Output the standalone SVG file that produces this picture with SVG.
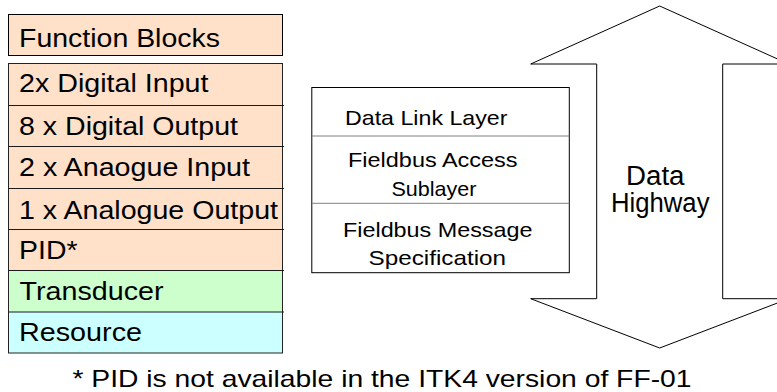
<svg xmlns="http://www.w3.org/2000/svg" width="777" height="392" viewBox="0 0 777 392">
<style>
  .t { font-family: "Liberation Sans", Arial, sans-serif; fill: #000; }
  .big { font-size: 25px; }
  .mid { font-size: 21px; }
  .box { stroke: #000; stroke-width: 1; }
  .peach { fill: #FFE1C9; }
  .green { fill: #CCFFCC; }
  .cyan { fill: #CCFFFF; }
  .sep { stroke: #1a1a1a; stroke-width: 1; }
  .gsep { stroke: #808080; stroke-width: 1; }
</style>
<rect width="777" height="392" fill="#fff"/>

<g id="function-blocks-title">
  <rect class="box peach" x="8.5" y="14.5" width="274" height="41"/>
  <text class="t big" x="19" y="46.7" textLength="201" lengthAdjust="spacingAndGlyphs">Function Blocks</text>
</g>

<g id="block-stack">
  <rect class="peach" x="8.5" y="63.5" width="274" height="207"/>
  <rect class="green" x="8.5" y="270.5" width="274" height="41.5"/>
  <rect class="cyan" x="8.5" y="312" width="274" height="41"/>
  <rect x="8.5" y="63.5" width="274" height="289.5" fill="none" stroke="#222" stroke-width="1"/>
  <line class="sep" x1="8.5" y1="105.5" x2="284" y2="105.5"/>
  <line class="sep" x1="8.5" y1="146.5" x2="284" y2="146.5"/>
  <line class="sep" x1="8.5" y1="188.5" x2="284" y2="188.5"/>
  <line class="sep" x1="8.5" y1="229.5" x2="284" y2="229.5"/>
  <line class="sep" x1="8.5" y1="270.5" x2="284" y2="270.5"/>
  <line class="sep" x1="8.5" y1="312" x2="284" y2="312"/>
</g>
<g id="row-digital-input"><text class="t big" x="19" y="92.3" textLength="189.5" lengthAdjust="spacingAndGlyphs">2x Digital Input</text></g>
<g id="row-digital-output"><text class="t big" x="19" y="134.5" textLength="219" lengthAdjust="spacingAndGlyphs">8 x Digital Output</text></g>
<g id="row-analogue-input"><text class="t big" x="19" y="176" textLength="231" lengthAdjust="spacingAndGlyphs">2 x Anaogue Input</text></g>
<g id="row-analogue-output"><text class="t big" x="19" y="218.5" textLength="259" lengthAdjust="spacingAndGlyphs">1 x Analogue Output</text></g>
<g id="row-pid"><text class="t big" x="19" y="258.5" textLength="58.5" lengthAdjust="spacingAndGlyphs">PID*</text></g>
<g id="row-transducer"><text class="t big" x="19.5" y="300" textLength="144" lengthAdjust="spacingAndGlyphs">Transducer</text></g>
<g id="row-resource"><text class="t big" x="19" y="340.7" textLength="123" lengthAdjust="spacingAndGlyphs">Resource</text></g>

<g id="data-highway">
  <polygon points="659.7,6 788.7,64 722.7,64 722.7,298.7 788.7,298.7 659.7,348 530.7,298.7 596.7,298.7 596.7,64 530.7,64" fill="#fff" stroke="#000" stroke-width="1"/>
  <text class="t" font-size="27" x="626" y="185" textLength="58.5" lengthAdjust="spacingAndGlyphs">Data</text>
  <text class="t" font-size="27" x="611" y="212.3" textLength="98.5" lengthAdjust="spacingAndGlyphs">Highway</text>
</g>

<g id="protocol-stack">
  <rect x="311.8" y="87.5" width="257.5" height="185.2" fill="#fff" stroke="#000" stroke-width="1"/>
  <line class="gsep" x1="311.8" y1="136" x2="569.3" y2="136"/>
  <line class="gsep" x1="311.8" y1="203.3" x2="569.3" y2="203.3"/>
</g>
<g id="layer-data-link"><text class="t mid" x="345" y="125" textLength="162.5" lengthAdjust="spacingAndGlyphs">Data Link Layer</text></g>
<g id="layer-fas">
  <text class="t mid" x="348" y="167.3" textLength="169.5" lengthAdjust="spacingAndGlyphs">Fieldbus Access</text>
  <text class="t mid" x="391.5" y="196" textLength="85" lengthAdjust="spacingAndGlyphs">Sublayer</text>
</g>
<g id="layer-fms">
  <text class="t mid" x="343" y="237.3" textLength="189.5" lengthAdjust="spacingAndGlyphs">Fieldbus Message</text>
  <text class="t mid" x="368.5" y="265" textLength="137.5" lengthAdjust="spacingAndGlyphs">Specification</text>
</g>

<g id="footnote">
  <text class="t" font-size="24" x="72.5" y="386.5" textLength="619" lengthAdjust="spacingAndGlyphs">* PID is not available in the ITK4 version of FF-01</text>
</g>
</svg>
